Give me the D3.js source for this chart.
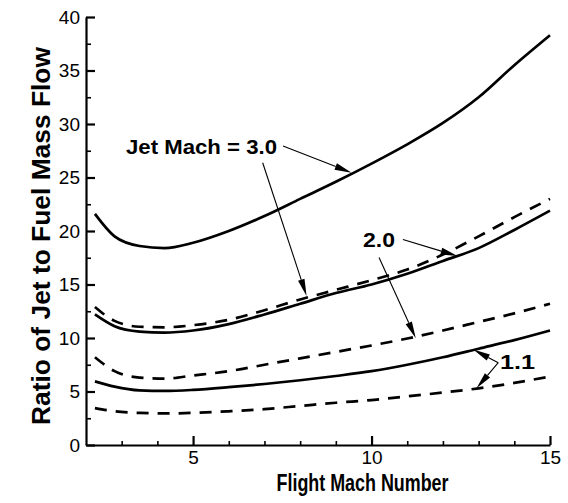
<!DOCTYPE html>
<html>
<head>
<meta charset="utf-8">
<script src="https://cdn.jsdelivr.net/npm/d3@7"></script>
<style>
  html, body { margin: 0; padding: 0; background: #fff; }
  svg { display: block; font-family: "Liberation Sans", Arial, Helvetica, sans-serif; }
</style>
</head>
<body>
<svg id="chart" width="568" height="503"></svg>
<script>
// Flight Mach number sample points shared by every curve
const flightMach = [2.25, 2.8, 3.5, 4.2, 5, 6, 7, 8, 9, 10, 11, 12, 13, 14, 15];

// Ratio of jet to fuel mass flow, solid curves
const jet30Solid = [21.6, 19.5, 18.6, 18.4, 18.9, 20.0, 21.4, 23.0, 24.6, 26.3, 28.1, 30.1, 32.5, 35.5, 38.3];
const jet20Solid = [12.2, 11.1, 10.6, 10.5, 10.7, 11.3, 12.2, 13.2, 14.2, 15.0, 16.0, 17.2, 18.4, 20.1, 21.9];
const jet11Solid = [5.95, 5.45, 5.1, 5.05, 5.15, 5.4, 5.7, 6.05, 6.45, 6.9, 7.5, 8.2, 9.0, 9.8, 10.7];

// Ratio of jet to fuel mass flow, dashed curves
const jet30Dashed = [12.9, 11.6, 11.05, 11.0, 11.2, 11.7, 12.6, 13.6, 14.5, 15.4, 16.4, 17.8, 19.5, 21.3, 23.0];
const jet20Dashed = [8.2, 6.9, 6.3, 6.2, 6.5, 6.9, 7.5, 8.1, 8.7, 9.3, 9.95, 10.7, 11.5, 12.3, 13.2];
const jet11Dashed = [3.45, 3.15, 3.0, 2.95, 3.0, 3.15, 3.35, 3.65, 3.95, 4.2, 4.55, 4.9, 5.3, 5.8, 6.4];

// Axis ticks
const xMajorTicks = [5, 10, 15];
const xMinorTicks = [3, 4, 6, 7, 8, 9, 11, 12, 13, 14];
const yMajorTicks = [0, 5, 10, 15, 20, 25, 30, 35, 40];
const yMinorTicks = [2.5, 7.5, 12.5, 17.5, 22.5, 27.5, 32.5, 37.5];

// Callout labels and their leader arrows, in data units
const calloutLabels = [
  { text: "Jet Mach = 3.0", x: 3.12, y: 27.2, width: 151 },
  { text: "2.0", x: 9.76, y: 18.55, width: 32 },
  { text: "1.1", x: 13.6, y: 7.1, width: 35 }
];
const calloutArrows = [
  { from: [7.52, 27.94], to: [9.44, 25.45] },
  { from: [6.95, 26.38], to: [8.18, 13.93] },
  { from: [10.88, 19.2], to: [12.41, 17.66] },
  { from: [10.21, 17.52], to: [11.24, 9.97] },
  { from: [13.55, 7.69], to: [12.85, 8.93] },
  { from: [13.55, 7.69], to: [12.94, 5.3] }
];

const series = [
  { values: jet30Solid, dashed: false },
  { values: jet20Solid, dashed: false },
  { values: jet11Solid, dashed: false },
  { values: jet30Dashed, dashed: true },
  { values: jet20Dashed, dashed: true },
  { values: jet11Dashed, dashed: true }
];

const margin = { left: 86, right: 18, top: 17, bottom: 58 };
const W = 568, H = 503;
const svg = d3.select("#chart");

const x = d3.scaleLinear().domain([2, 15]).range([margin.left, W - margin.right]);
const y = d3.scaleLinear().domain([0, 40]).range([H - margin.bottom, margin.top]);

// Curves
const line = d3.line()
  .x((d, i) => x(flightMach[i]))
  .y(d => y(d))
  .curve(d3.curveMonotoneX);

svg.append("g")
  .selectAll("path")
  .data(series)
  .join("path")
  .attr("d", s => line(s.values))
  .attr("fill", "none")
  .attr("stroke", "#000")
  .attr("stroke-width", 2.7)
  .attr("stroke-dasharray", s => s.dashed ? "12,9" : null);

// Axes: ticks point inward, minor ticks shorter
function styleAxis(g, width) {
  g.selectAll(".tick line").attr("stroke", "#000").attr("stroke-width", width);
  g.selectAll("text").attr("fill", "#000");
}

const yAxisMinor = svg.append("g")
  .attr("transform", `translate(${margin.left},0)`)
  .call(d3.axisLeft(y).tickValues(yMinorTicks).tickSize(-5).tickFormat(""));
yAxisMinor.select(".domain").remove();
styleAxis(yAxisMinor, 1.6);

const xAxisMinor = svg.append("g")
  .attr("transform", `translate(0,${H - margin.bottom})`)
  .call(d3.axisBottom(x).tickValues(xMinorTicks).tickSize(-4).tickFormat(""));
xAxisMinor.select(".domain").remove();
styleAxis(xAxisMinor, 1.6);

const yAxis = svg.append("g")
  .attr("transform", `translate(${margin.left},0)`)
  .call(d3.axisLeft(y).tickValues(yMajorTicks).tickSizeInner(-9).tickSizeOuter(0).tickPadding(6).tickFormat(d3.format("d")));
yAxis.select(".domain").attr("stroke", "#000").attr("stroke-width", 2.2);
yAxis.selectAll("text").attr("font-size", 19).attr("font-family", "Liberation Sans, Arial, sans-serif");
styleAxis(yAxis, 2.2);

const xAxis = svg.append("g")
  .attr("transform", `translate(0,${H - margin.bottom})`)
  .call(d3.axisBottom(x).tickValues(xMajorTicks).tickSizeInner(-9).tickSizeOuter(0).tickPadding(6).tickFormat(d3.format("d")));
xAxis.select(".domain").attr("stroke", "#000").attr("stroke-width", 2.2);
xAxis.selectAll("text").attr("font-size", 19).attr("font-family", "Liberation Sans, Arial, sans-serif");
styleAxis(xAxis, 2.2);

// Axis titles
svg.append("text")
  .attr("x", 362.5)
  .attr("y", 491)
  .attr("text-anchor", "middle")
  .attr("font-size", 23)
  .attr("font-weight", "bold")
  .attr("textLength", 172)
  .attr("lengthAdjust", "spacingAndGlyphs")
  .text("Flight Mach Number");

svg.append("text")
  .attr("transform", "translate(50,236) rotate(-90)")
  .attr("text-anchor", "middle")
  .attr("font-size", 25)
  .attr("font-weight", "bold")
  .attr("textLength", 378)
  .attr("lengthAdjust", "spacingAndGlyphs")
  .text("Ratio of Jet to Fuel Mass Flow");

// Callout labels
svg.append("g")
  .selectAll("text")
  .data(calloutLabels)
  .join("text")
  .attr("x", d => x(d.x))
  .attr("y", d => y(d.y))
  .attr("font-size", 21)
  .attr("font-weight", "bold")
  .attr("textLength", d => d.width)
  .attr("lengthAdjust", "spacingAndGlyphs")
  .text(d => d.text);

// Leader arrows with long narrow filled heads
const headLen = 17, headHalf = 3.4;
const arrows = svg.append("g");
calloutArrows.forEach(a => {
  const x0 = x(a.from[0]), y0 = y(a.from[1]);
  const x1 = x(a.to[0]), y1 = y(a.to[1]);
  const len = Math.hypot(x1 - x0, y1 - y0);
  const ux = (x1 - x0) / len, uy = (y1 - y0) / len;
  const bx = x1 - ux * headLen, by = y1 - uy * headLen;
  arrows.append("line")
    .attr("x1", x0).attr("y1", y0)
    .attr("x2", bx).attr("y2", by)
    .attr("stroke", "#000")
    .attr("stroke-width", 1.1);
  arrows.append("path")
    .attr("d", `M${x1},${y1}L${bx - uy * headHalf},${by + ux * headHalf}L${bx + uy * headHalf},${by - ux * headHalf}Z`)
    .attr("fill", "#000");
});
</script>
</body>
</html>
